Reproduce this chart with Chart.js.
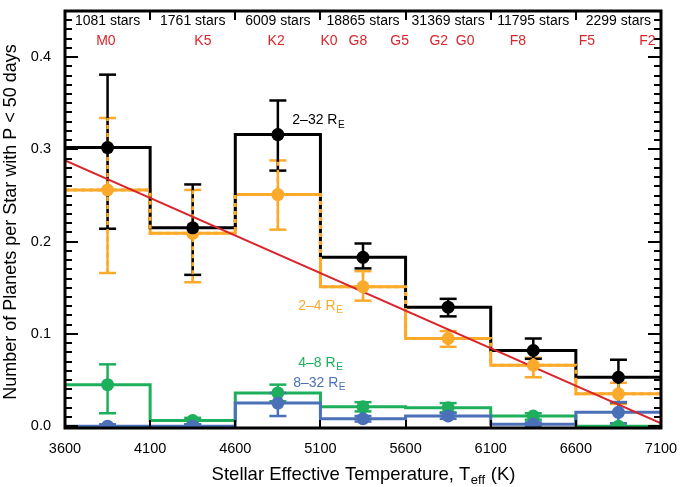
<!DOCTYPE html>
<html>
<head>
<meta charset="utf-8">
<script src="https://cdn.jsdelivr.net/npm/chart.js@4.4.1/dist/chart.umd.min.js"></script>
<style>
  html, body { margin: 0; padding: 0; background: #fff; }
  #wrap { width: 685px; height: 487px; }
</style>
</head>
<body>
<div id="wrap"><canvas id="chart"></canvas></div>
<script>
'use strict';

// bins in effective temperature (K)
const binEdges = [3600, 4100, 4600, 5100, 5600, 6100, 6600, 7100];
const binCenters = [3850, 4350, 4850, 5350, 5850, 6350, 6850];
const starCounts = ['1081 stars', '1761 stars', '6009 stars', '18865 stars', '31369 stars', '11795 stars', '2299 stars'];
const spectralTypes = ['M0', 'K5', 'K2', 'K0', 'G8', 'G5', 'G2', 'G0', 'F8', 'F5', 'F2'];
const spectralTemps = [3840, 4410, 4840, 5150, 5320, 5565, 5795, 5950, 6260, 6665, 7020];
const xTicks = [3600, 4100, 4600, 5100, 5600, 6100, 6600, 7100];
const yTicks = [0.0, 0.1, 0.2, 0.3, 0.4];

// 2-32 Earth radii
const rate2to32 = [0.302, 0.215, 0.316, 0.183, 0.129, 0.082, 0.053];
const hi2to32 = [0.381, 0.262, 0.353, 0.198, 0.138, 0.095, 0.072];
const lo2to32 = [0.214, 0.164, 0.277, 0.171, 0.119, 0.073, 0.026];
// 2-4 Earth radii
const rate2to4 = [0.256, 0.209, 0.251, 0.151, 0.095, 0.066, 0.035];
const hi2to4 = [0.334, 0.256, 0.288, 0.168, 0.103, 0.074, 0.047];
const lo2to4 = [0.166, 0.156, 0.213, 0.136, 0.086, 0.053, 0.024];
// 4-8 Earth radii
const rate4to8 = [0.045, 0.006, 0.036, 0.021, 0.020, 0.011, 0.000];
const hi4to8 = [0.067, 0.009, 0.045, 0.026, 0.025, 0.014, 0.003];
const lo4to8 = [0.014, 0.002, 0.027, 0.016, 0.015, 0.007, 0.000];
// 8-32 Earth radii
const rate8to32 = [0.000, 0.000, 0.025, 0.008, 0.011, 0.002, 0.015];
const hi8to32 = [0.002, 0.002, 0.036, 0.011, 0.014, 0.004, 0.026];
const lo8to32 = [0.000, 0.000, 0.011, 0.005, 0.008, 0.000, 0.003];
// linear fit
const fitTemps = [3600, 7100];
const fitRates = [0.288, 0.003];

const BLACK = '#000000';
const ORANGE = '#FBAA2C';
const GREEN = '#1DAF5B';
const BLUE = '#4A70B8';
const RED = '#D9252B';
const FONT = '"Liberation Sans", Arial, Helvetica, sans-serif';

const steps = (values) => binEdges.map((x, i) => ({ x, y: values[Math.min(i, values.length - 1)] }));
const points = (values) => binCenters.map((x, i) => ({ x, y: values[i] }));
const errorBars = (lo, hi) => binCenters.flatMap((x, i) => [
    { x, y: lo[i] }, { x, y: hi[i] }, { x, y: null }
]);

const stepSet = (values, color, extra = {}) => Object.assign({
    data: steps(values), stepped: true, borderColor: color, borderWidth: 3,
    pointRadius: 0, fill: false
}, extra);
const errSet = (lo, hi, color, extra = {}) => Object.assign({
    data: errorBars(lo, hi), borderColor: color, borderWidth: 2.5,
    pointStyle: 'line', pointRadius: 8.5, pointBorderWidth: 2.5,
    pointBorderColor: color, spanGaps: false, fill: false
}, extra);
const dotSet = (values, color) => ({
    data: points(values), showLine: false, pointRadius: 6.5,
    pointBackgroundColor: color, pointBorderWidth: 0, borderColor: color
});

// first dataset is drawn on top
const datasets = [
    dotSet(rate8to32, BLUE),
    dotSet(rate4to8, GREEN),
    dotSet(rate2to32, BLACK),
    dotSet(rate2to4, ORANGE),
    { data: fitTemps.map((x, i) => ({ x, y: fitRates[i] })), borderColor: RED, borderWidth: 2, pointRadius: 0 },
    errSet(lo8to32, hi8to32, BLUE),
    stepSet(rate8to32, BLUE),
    errSet(lo4to8, hi4to8, GREEN),
    stepSet(rate4to8, GREEN),
    stepSet(rate2to4, ORANGE, { borderDash: [4, 4] }),
    errSet(lo2to4, hi2to4, ORANGE, { borderDash: [4, 4], pointRadius: 0 }),
    errSet(lo2to32, hi2to32, BLACK),
    stepSet(rate2to32, BLACK),
    errSet(lo2to4, hi2to4, ORANGE),
    stepSet(rate2to4, ORANGE)
];

function subText(ctx, parts, x, y, align) {
    // parts: [text, subscript, tail, size]
    const [main, sub, tail, size] = parts;
    const subSize = Math.round(size * 0.68);
    ctx.font = size + 'px ' + FONT;
    const w1 = ctx.measureText(main).width;
    const w3 = tail ? ctx.measureText(tail).width : 0;
    ctx.font = subSize + 'px ' + FONT;
    const w2 = ctx.measureText(sub).width;
    let left = x;
    if (align === 'center') left = x - (w1 + w2 + w3) / 2;
    ctx.textAlign = 'left';
    ctx.textBaseline = 'alphabetic';
    ctx.font = size + 'px ' + FONT;
    ctx.fillText(main, left, y);
    ctx.font = subSize + 'px ' + FONT;
    ctx.fillText(sub, left + w1 + 0.5, y + size * 0.22);
    if (tail) {
        ctx.font = size + 'px ' + FONT;
        ctx.fillText(tail, left + w1 + w2 + 1, y);
    }
}

const framePlugin = {
    id: 'frame',
    afterDraw(chart) {
        const { ctx, chartArea: a, scales: { x, y } } = chart;
        ctx.save();
        ctx.strokeStyle = BLACK;
        ctx.lineWidth = 2;
        ctx.beginPath();
        // y minor + major ticks on both sides
        for (let k = 0; k <= 44; k++) {
            const py = Math.round(y.getPixelForValue(k / 100));
            const len = k % 10 === 0 ? 13 : 7;
            ctx.moveTo(a.left, py); ctx.lineTo(a.left + len, py);
            ctx.moveTo(a.right, py); ctx.lineTo(a.right - len, py);
        }
        xTicks.slice(1, -1).forEach(v => {
            const px = Math.round(x.getPixelForValue(v));
            ctx.moveTo(px, a.bottom); ctx.lineTo(px, a.bottom - 8);
            ctx.moveTo(px, a.top); ctx.lineTo(px, a.top + 9);
        });
        ctx.stroke();
        ctx.lineWidth = 3;
        ctx.strokeRect(a.left, a.top, a.right - a.left, a.bottom - a.top);

        // star counts and spectral types
        ctx.fillStyle = BLACK;
        ctx.font = '14px ' + FONT;
        ctx.textAlign = 'center';
        ctx.textBaseline = 'middle';
        starCounts.forEach((s, i) => ctx.fillText(s, x.getPixelForValue(binCenters[i]), 21));
        ctx.fillStyle = RED;
        spectralTypes.forEach((s, i) => ctx.fillText(s, x.getPixelForValue(spectralTemps[i]), 41));

        // series labels
        const lab = (txt, color, tx, ty) => {
            ctx.fillStyle = color;
            subText(ctx, [txt, 'E', '', 14], x.getPixelForValue(tx), y.getPixelForValue(ty));
        };
        lab('2\u201332 R', BLACK, 4935, 0.327);
        lab('2\u20134 R', ORANGE, 4970, 0.126);
        lab('4\u20138 R', GREEN, 4970, 0.064);
        lab('8\u201332 R', BLUE, 4940, 0.042);

        // axis titles
        ctx.fillStyle = BLACK;
        subText(ctx, ['Stellar Effective Temperature, T', 'eff', ' (K)', 18.5], (a.left + a.right) / 2, 480, 'center');
        ctx.translate(16, 222);
        ctx.rotate(-Math.PI / 2);
        ctx.font = '18px ' + FONT;
        ctx.textAlign = 'center';
        ctx.textBaseline = 'alphabetic';
        ctx.fillText('Number of Planets per Star with P < 50 days', 0, 0);
        ctx.restore();
    }
};

new Chart(document.getElementById('chart'), {
    type: 'line',
    data: { datasets },
    options: {
        responsive: true,
        maintainAspectRatio: false,
        animation: false,
        events: [],
        layout: { padding: { top: 5, right: 24, left: 0, bottom: 0 } },
        plugins: { legend: { display: false }, tooltip: { enabled: false } },
        scales: {
            x: {
                type: 'linear', min: 3600, max: 7100,
                afterBuildTicks: (s) => { s.ticks = xTicks.map(v => ({ value: v })); },
                afterFit: (s) => { s.height = 59; s.paddingLeft = 0; s.paddingRight = 0; },
                grid: { display: false, drawTicks: false },
                border: { display: false },
                ticks: { color: BLACK, font: { family: FONT, size: 14.5 }, padding: 12, maxRotation: 0, autoSkip: false,
                         callback: (v) => String(v) }
            },
            y: {
                type: 'linear', min: -0.002, max: 0.45,
                afterBuildTicks: (s) => { s.ticks = yTicks.map(v => ({ value: v })); },
                afterFit: (s) => { s.width = 65; s.paddingTop = 0; s.paddingBottom = 0; },
                grid: { display: false, drawTicks: false },
                border: { display: false },
                ticks: { color: BLACK, font: { family: FONT, size: 14.5 }, padding: 14,
                         callback: (v) => Number(v).toFixed(1) }
            }
        }
    },
    plugins: [framePlugin]
});
</script>
</body>
</html>
